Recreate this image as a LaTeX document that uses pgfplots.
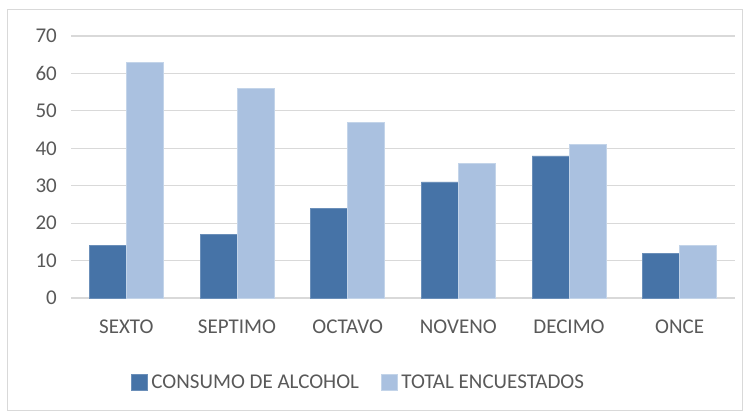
\documentclass[border=0pt]{standalone}
\usepackage{fontspec}
\setmainfont{Carlito}
\usepackage{pgfplots}
\pgfplotsset{compat=1.18}
\definecolor{darkbar}{HTML}{4673A7}
\definecolor{lightbar}{HTML}{AAC1E0}
\definecolor{gridgrey}{HTML}{D9D9D9}
\definecolor{txtgrey}{HTML}{595959}
\newcommand{\cf}{\fontsize{21bp}{24bp}\selectfont}

\begin{document}
\begin{tikzpicture}[x=1bp,y=1bp]
% page and chart frame
\fill[white] (0,0) rectangle (749,416);
\draw[gridgrey,line width=1bp] (7,6) rectangle (742,406);
\begin{axis}[
  at={(71bp,118bp)}, anchor=south west,
  scale only axis, width=664bp, height=262bp,
  ybar=0pt, bar width=37bp,
  xmin=-0.5, xmax=5.5, ymin=0, ymax=70,
  xtick={0,1,2,3,4,5},
  xticklabels={SEXTO,SEPTIMO,OCTAVO,NOVENO,DECIMO,ONCE},
  ytick={0,10,...,70},
  major tick length=0pt,
  axis line style={draw=none},
  ymajorgrids, grid style={gridgrey,line width=1.2bp},
  /pgf/number format/assume math mode=true,
  tick label style={font=\cf, text=txtgrey},
  yticklabel style={anchor=east, inner sep=0pt, xshift=-14bp},
  xticklabel style={anchor=north, inner sep=0pt, yshift=-22bp},
  legend columns=2,
  legend style={draw=none, fill=none, font=\cf, text=txtgrey,
    at={(0.433,-0.322)}, anchor=center,
    /tikz/every odd column/.append style={column sep=2bp},
    /tikz/every even column/.append style={column sep=20bp}},
  legend image code/.code={\fill[#1] (0bp,-8bp) rectangle (16bp,8bp);},
]
\addplot[fill=darkbar, draw=darkbar!80!white] coordinates {(0,14) (1,17) (2,24) (3,31) (4,38) (5,12)};
\addplot[fill=lightbar, draw=lightbar!70!white] coordinates {(0,63) (1,56) (2,47) (3,36) (4,41) (5,14)};
\legend{CONSUMO DE ALCOHOL,TOTAL ENCUESTADOS}
\end{axis}
\end{tikzpicture}
\end{document}
